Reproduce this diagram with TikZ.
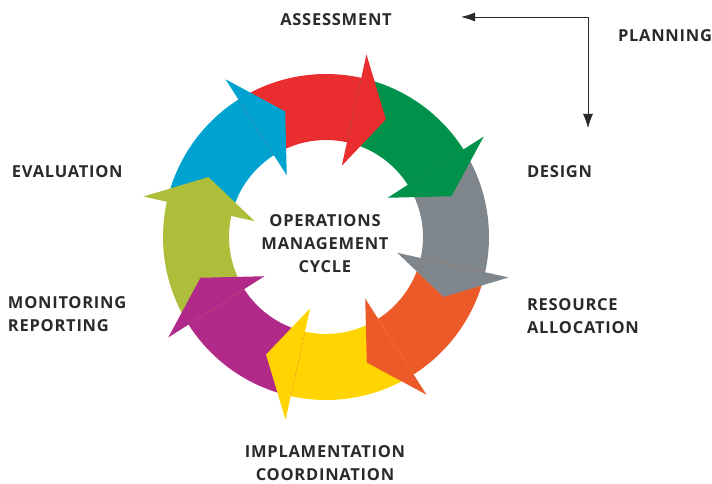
\documentclass[tikz,border=0pt]{standalone}
\usepackage{fontspec}
\setmainfont{Open Sans}[LetterSpace=4.5]
\usetikzlibrary{arrows.meta}
\definecolor{txtgray}{HTML}{2B2A29}
\definecolor{cblue}{HTML}{00A3D0}
\definecolor{cred}{HTML}{EA2D2E}
\definecolor{cgreen}{HTML}{00924A}
\definecolor{cgray}{HTML}{7F878C}
\definecolor{corange}{HTML}{EC5A29}
\definecolor{cyellow}{HTML}{FFD400}
\definecolor{cpurple}{HTML}{B12A89}
\definecolor{colive}{HTML}{AEBD3A}
\tikzset{band/.pic={
        code={
        \fill (45:163) arc[start angle=45, end angle=-3, radius=163]
            -- (-3:97) arc[start angle=-3, end angle=45, radius=97] -- cycle;
 	}
  }
}
\tikzset{head/.pic={
        code={
        \fill (0:187) -- (-14.5:132) -- (0:73) -- cycle;
 	}
  }
}
\tikzset{lbl/.style={font=\bfseries\fontsize{16.5}{23}\selectfont, text=txtgray, align=left}}

\begin{document}
\begin{tikzpicture}[x=1pt,y=1pt,every node/.style={inner sep=0,outer sep=0}]
\useasboundingbox (-326,-247) rectangle (386,237);
% Bands
\path (0,0) pic[rotate=122.5,fill=cblue] {band};
\path (0,0) pic[rotate=77.5,fill=cred] {band};
\path (0,0) pic[rotate=32.5,fill=cgreen] {band};
\path (0,0) pic[rotate=-12.5,fill=cgray] {band};
\path (0,0) pic[rotate=-57.5,fill=corange] {band};
\path (0,0) pic[rotate=-102.5,fill=cyellow] {band};
\path (0,0) pic[rotate=-147.5,fill=cpurple] {band};
\path (0,0) pic[rotate=167.5,fill=colive] {band};
% Heads
\path (0,0) pic[rotate=122.5,fill=cblue] {head};
\path (0,0) pic[rotate=77.5,fill=cred] {head};
\path (0,0) pic[rotate=32.5,fill=cgreen] {head};
\path (0,0) pic[rotate=-12.5,fill=cgray] {head};
\path (0,0) pic[rotate=-57.5,fill=corange] {head};
\path (0,0) pic[rotate=-102.5,fill=cyellow] {head};
\path (0,0) pic[rotate=-147.5,fill=cpurple] {head};
\path (0,0) pic[rotate=167.5,fill=colive] {head};
% Centre
\node[lbl,align=center] (cycle) at (-1,-7) {OPERATIONS\\MANAGEMENT\\CYCLE};
% Labels
\node[lbl] (assess) at (10,217) {ASSESSMENT};
\node[lbl] (planning) at (339,201) {PLANNING};
\node[lbl,anchor=west] (design) at (201,65) {DESIGN};
\node[lbl,anchor=west] (resource) at (201,-79) {RESOURCE\\ALLOCATION};
\node[lbl,align=center] (implem) at (-1,-226) {IMPLAMENTATION\\COORDINATION};
\node[lbl,anchor=west] (monitor) at (-318,-77) {MONITORING\\REPORTING};
\node[lbl,anchor=west] (eval) at (-314,65) {EVALUATION};
% Planning arrow
\coordinate (planleft) at (135,220);
\coordinate (plandown) at (262,109);
\draw[line width=0.8pt,txtgray,{Latex[length=14pt,width=9pt]}-{Latex[length=14pt,width=10pt]}] (planleft) -| (plandown);
\end{tikzpicture}
\end{document}
